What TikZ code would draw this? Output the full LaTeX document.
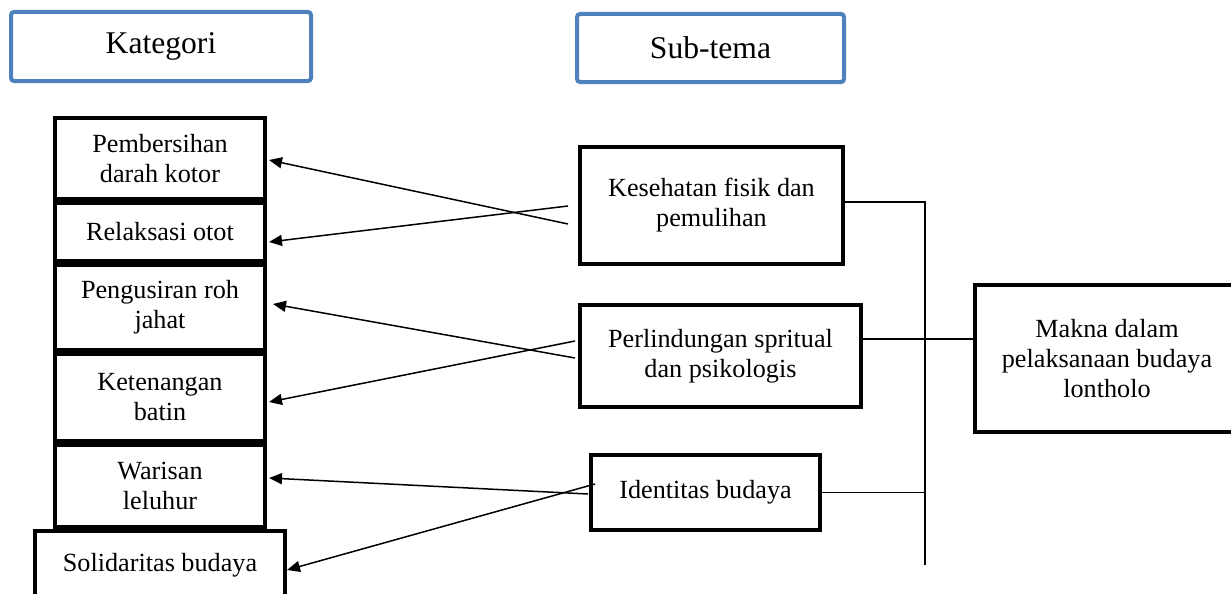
\documentclass[tikz,border=0pt]{standalone}
\usepackage{fontspec}
\setmainfont{Liberation Serif}
\usepackage{tikz}
\usetikzlibrary{positioning,arrows.meta}
\definecolor{headblue}{RGB}{79,129,189}
\newcommand{\txtsize}{\fontsize{26.2}{30}\selectfont}
\newcommand{\headsize}{\fontsize{31.6}{36}\selectfont}

\begin{document}
\begin{tikzpicture}[x=1pt, y=-1pt,
        head/.style={draw=headblue, line width=4pt, rounded corners=3pt, font=\headsize, inner sep=0pt},
        kat/.style={draw, line width=4pt, minimum width=210pt, align=center, font=\txtsize, inner sep=0pt},
        sub/.style={draw, line width=4pt, align=center, font=\txtsize, inner sep=0pt},
        arr/.style={line width=1.5pt, -{Triangle[length=13pt, width=11pt]}},
        link/.style={line width=1.2pt}]
        \useasboundingbox (0,0) rectangle (1231,594);
        \clip (0,0) rectangle (1231,594);

        \node[head, minimum width=300pt, minimum height=69pt] (kategori) at (161,46.5) {Kategori};
        \node[head, minimum width=267pt, minimum height=68pt] (subtema) at (710.5,48) {Sub-tema};

        % kategori column
        \node[kat, minimum height=81pt] (pemb) at (160,158.5) {Pembersihan\\darah kotor};
        \node[kat, minimum height=58pt, below=0pt of pemb] (relak) {Relaksasi otot};
        \node[kat, minimum height=85pt, below=0pt of relak] (peng) {Pengusiran roh\\jahat};
        \node[kat, minimum height=87pt, below=0pt of peng] (tenang) {Ketenangan\\batin};
        \node[kat, minimum height=82pt, below=0pt of tenang] (waris) {Warisan\\leluhur};
        \node[kat, minimum width=250pt, minimum height=68pt, below=0pt of waris] (soli) {Solidaritas budaya};

        % sub-tema column
        \node[sub, minimum width=263pt, minimum height=117pt] (sehat) at (711.5,205.5) {Kesehatan fisik dan\\pemulihan};
        \node[sub, minimum width=281pt, minimum height=102pt] (lindung) at (720.5,356) {Perlindungan spritual\\dan psikologis};
        \node[sub, minimum width=229pt, minimum height=75pt] (ident) at (705.5,492.5) {Identitas budaya};
        \node[sub, minimum width=264pt, minimum height=147pt] (makna) at (1107,358.5) {Makna dalam\\pelaksanaan budaya\\lontholo};

        \coordinate (bustop) at (925,202);
        \coordinate (busend) at (925,565);
        \coordinate (pmid) at (925,339);
        \draw[link] (sehat.east |- bustop) -- (bustop) -- (busend);
        \draw[link] (lindung.east |- pmid) -- (makna.west |- pmid);
        \draw[link] (ident.east) -- (ident.east -| bustop);

        \draw[arr] ([xshift=-10pt, yshift=-18.5pt]sehat.west) -- ([xshift=2pt, yshift=-1.5pt]pemb.east);
        \draw[arr] ([xshift=-10pt, yshift=-0.5pt]sehat.west) -- ([xshift=2pt, yshift=-10pt]relak.east);
        \draw[arr] ([xshift=-3pt, yshift=-2pt]lindung.west) -- ([xshift=6pt, yshift=3.5pt]peng.east);
        \draw[arr] ([xshift=-3pt, yshift=15pt]lindung.west) -- ([xshift=2pt, yshift=-4.5pt]tenang.east);
        \draw[arr] ([xshift=-1pt, yshift=-1.5pt]ident.west) -- ([xshift=2pt, yshift=8pt]waris.east);
        \draw[arr] ([xshift=6pt, yshift=8.5pt]ident.west) -- ([yshift=-5pt]soli.east);
    \end{tikzpicture}
\end{document}
